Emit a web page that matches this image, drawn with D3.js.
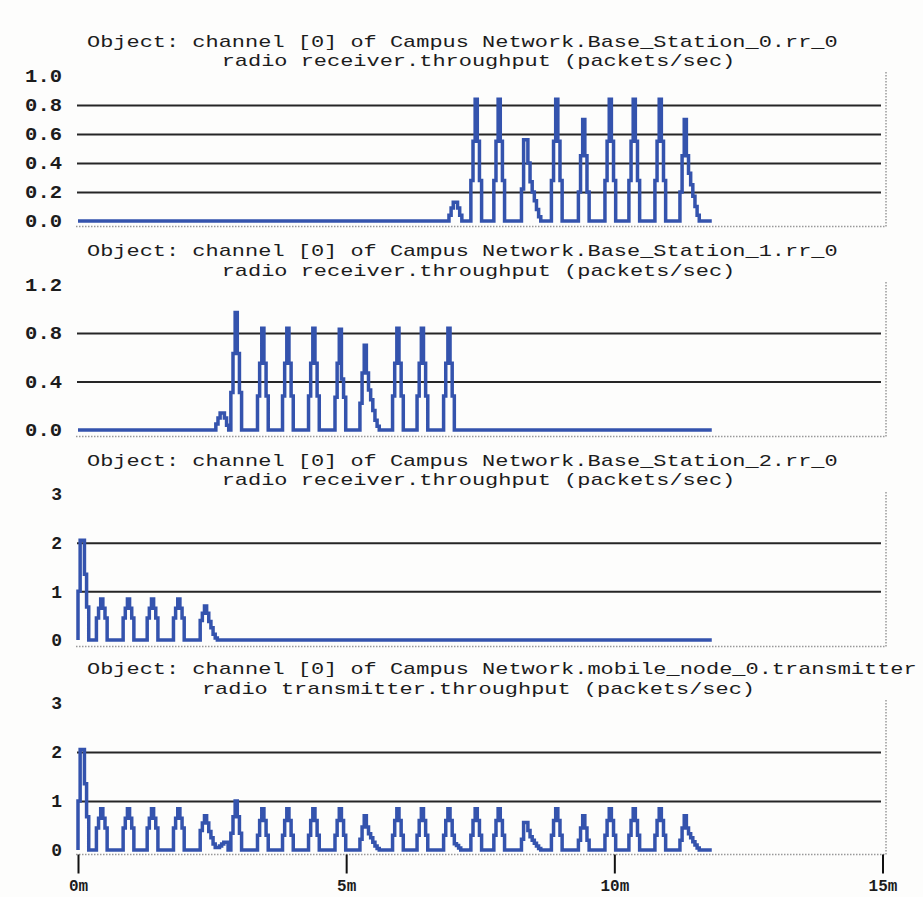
<!DOCTYPE html>
<html>
<head>
<meta charset="utf-8">
<script src="https://cdn.jsdelivr.net/npm/d3@7/dist/d3.min.js"></script>
<style>
  body { margin: 0; background: #fdfdfc; }
  text { font-family: "Liberation Mono", "DejaVu Sans Mono", monospace; fill: #1c1c1c; }
</style>
</head>
<body>
<div id="chart"></div>
<script>
// each stair level in a segment lasts STEP seconds
const STEP = 2.4;
const END = 709;

const xTicks = [0, 300, 600, 900];
const xTickLabels = ['0m', '5m', '10m', '15m'];

const titleLine1 = [
  'Object: channel [0] of Campus Network.Base_Station_0.rr_0',
  'Object: channel [0] of Campus Network.Base_Station_1.rr_0',
  'Object: channel [0] of Campus Network.Base_Station_2.rr_0',
  'Object: channel [0] of Campus Network.mobile_node_0.transmitter'
];
const titleLine2 = [
  'radio receiver.throughput (packets/sec)',
  'radio receiver.throughput (packets/sec)',
  'radio receiver.throughput (packets/sec)',
  'radio transmitter.throughput (packets/sec)'
];

const yTicks = [
  [0, 0.2, 0.4, 0.6, 0.8, 1.0],
  [0, 0.4, 0.8, 1.2],
  [0, 1, 2, 3],
  [0, 1, 2, 3]
];
const yTickLabels = [
  ['0.0', '0.2', '0.4', '0.6', '0.8', '1.0'],
  ['0.0', '0.4', '0.8', '1.2'],
  ['0', '1', '2', '3'],
  ['0', '1', '2', '3']
];

// stair levels
const peakA = [0.28, 0.55, 0.84, 0.55, 0.28];
const peakB = [0.45, 0.65, 0.84, 0.65, 0.45];
const peakC = [0.3, 0.6, 0.84, 0.6, 0.3];
const spike = [1.0, 2.05, 2.05, 1.35, 0.68];

// [start second, levels]
const bs0 = [
  [415, [0.04, 0.09, 0.13, 0.13, 0.09, 0.04]],
  [439.5, peakA],
  [465.2, peakA],
  [496.1, [0.22, 0.56, 0.56, 0.4, 0.27, 0.2, 0.14, 0.08, 0.03]],
  [529.6, peakA],
  [559.8, [0.2, 0.45, 0.7, 0.45, 0.2]],
  [589.5, peakA],
  [616.3, peakA],
  [645.4, peakA],
  [673.4, [0.2, 0.45, 0.7, 0.45, 0.33, 0.25, 0.17, 0.1, 0.04]]
];

const bs1 = [
  [154.2, [0.05, 0.1, 0.14, 0.14, 0.1, 0.04]],
  [171.0, [0.31, 0.63, 0.97, 0.63, 0.31]],
  [200.8, peakA],
  [228.8, peakA],
  [257.9, peakA],
  [287.5, [0.27, 0.55, 0.83, 0.42, 0.27]],
  [315.4, [0.22, 0.47, 0.7, 0.47, 0.33, 0.25, 0.16, 0.08, 0.03]],
  [351.9, peakA],
  [379.3, peakA],
  [409.0, peakA]
];

const bs2 = [
  [0, spike],
  [20.6, peakB],
  [50.5, peakB],
  [77.4, peakB],
  [106.8, peakB],
  [136.7, [0.4, 0.55, 0.7, 0.55, 0.38, 0.25, 0.12, 0.04]]
];

const mn0 = [
  [0, spike],
  [20.6, peakB],
  [50.5, peakB],
  [77.4, peakB],
  [106.8, peakB],
  [136.7, [0.4, 0.55, 0.7, 0.55, 0.38, 0.25, 0.12, 0.05, 0.05, 0.08, 0.12, 0.16, 0.16]],
  [171.0, [0.34, 0.68, 1.0, 0.68, 0.34]],
  [200.8, peakC],
  [228.8, peakC],
  [257.9, peakC],
  [287.5, peakC],
  [315.4, [0.22, 0.47, 0.7, 0.47, 0.33, 0.25, 0.16, 0.08, 0.03]],
  [351.9, peakC],
  [379.3, peakC],
  [409.0, [0.3, 0.6, 0.84, 0.6, 0.3, 0.13, 0.09, 0.04]],
  [439.5, peakC],
  [465.2, peakC],
  [496.1, [0.22, 0.56, 0.56, 0.4, 0.27, 0.2, 0.14, 0.08, 0.03]],
  [529.6, peakC],
  [559.8, [0.2, 0.45, 0.7, 0.45, 0.2]],
  [589.5, peakC],
  [616.3, peakC],
  [645.4, peakC],
  [673.4, [0.2, 0.45, 0.7, 0.45, 0.33, 0.25, 0.17, 0.1, 0.04]]
];

const series = [bs0, bs1, bs2, mn0];

const layout = [
  {zero: 221, top: 76, frameTop: 72, frameBottom: 226.5, title: 46.5},
  {zero: 430, top: 284.5, frameTop: 281.5, frameBottom: 436.5, title: 256},
  {zero: 640, top: 494, frameTop: 491, frameBottom: 646.5, title: 465.5},
  {zero: 850, top: 703, frameTop: 700, frameBottom: 854.5, title: 674}
];

const svgWidth = 923;
const svgHeight = 897;
const charW = 13.17;

const svg = d3.select('#chart')
  .append('svg')
  .attr('width', svgWidth)
  .attr('height', svgHeight);

const x = d3.scaleLinear().domain([0, 900]).range([78, 882.5]);

const toPoints = segs => {
  const pts = [[0, 0]];
  segs.forEach(([t, levels]) => {
    levels.forEach((v, i) => pts.push([t + i * STEP, v]));
    pts.push([t + levels.length * STEP, 0]);
  });
  pts.push([END, 0]);
  return pts;
};

layout.forEach((lay, p) => {
  const ticks = yTicks[p];
  const y = d3.scaleLinear()
    .domain([0, ticks[ticks.length - 1]])
    .range([lay.zero, lay.top]);

  const g = svg.append('g');

  // titles
  g.append('text')
    .attr('x', 87)
    .attr('y', lay.title)
    .attr('font-size', 17)
    .attr('textLength', titleLine1[p].length * charW)
    .attr('lengthAdjust', 'spacingAndGlyphs')
    .text(titleLine1[p]);
  g.append('text')
    .attr('x', 478.5 - titleLine2[p].length * charW / 2)
    .attr('y', lay.title + 19.5)
    .attr('font-size', 17)
    .attr('textLength', titleLine2[p].length * charW)
    .attr('lengthAdjust', 'spacingAndGlyphs')
    .text(titleLine2[p]);

  // dotted frame on right and bottom
  g.append('path')
    .attr('d', `M76,${lay.frameBottom}H886V${lay.frameTop}`)
    .attr('fill', 'none')
    .attr('stroke', '#999')
    .attr('stroke-width', 1.5)
    .attr('stroke-dasharray', '1.5,1.5');

  // grid lines (skip zero and top)
  const yAxis = d3.axisLeft(y)
    .tickValues(ticks.slice(1, -1))
    .tickSize(-(881 - 77))
    .tickFormat('');
  g.append('g')
    .attr('transform', 'translate(77,0)')
    .call(yAxis)
    .call(a => a.select('.domain').remove())
    .call(a => a.selectAll('line')
      .attr('stroke', '#262626')
      .attr('stroke-width', 2));

  // tick labels
  g.selectAll('.ylab')
    .data(ticks)
    .enter()
    .append('text')
    .attr('class', 'ylab')
    .attr('x', 62)
    .attr('y', d => y(d))
    .attr('dy', '0.36em')
    .attr('text-anchor', 'end')
    .attr('font-size', 18)
    .attr('font-weight', 'bold')
    .attr('fill', '#2a2a2a')
    .each(function (d, i) {
      const s = yTickLabels[p][i];
      const t = d3.select(this).text(s);
      if (s.length > 1) t.attr('textLength', s.length * 12.3).attr('lengthAdjust', 'spacingAndGlyphs');
    });

  const line = d3.line()
    .x(d => x(d[0]))
    .y(d => y(d[1]))
    .curve(d3.curveStepAfter);

  g.append('path')
    .datum(toPoints(series[p]))
    .attr('fill', 'none')
    .attr('stroke', '#3453ad')
    .attr('stroke-width', 3.5)
    .attr('d', line);

  if (p === layout.length - 1) {
    const xAxis = d3.axisBottom(x)
      .tickValues(xTicks)
      .tickSize(19)
      .tickFormat((d, i) => xTickLabels[i]);
    g.append('g')
      .attr('transform', `translate(0,${lay.frameBottom})`)
      .call(xAxis)
      .call(a => a.select('.domain').remove())
      .call(a => a.selectAll('line').attr('stroke', '#111').attr('stroke-width', 2))
      .call(a => a.selectAll('text')
        .attr('y', 36)
        .attr('dy', 0)
        .attr('font-size', 16)
        .attr('font-weight', 'bold')
        .attr('font-family', '"Liberation Mono", monospace')
        .attr('fill', '#2a2a2a'));
  }
});
</script>
</body>
</html>
